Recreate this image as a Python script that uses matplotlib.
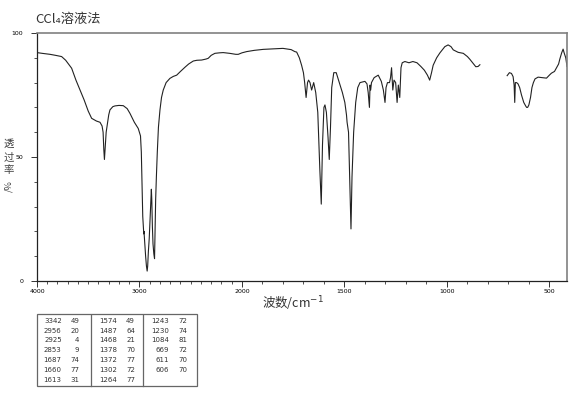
import numpy as np
import matplotlib
matplotlib.use("Agg")
import matplotlib.pyplot as plt
from matplotlib.ticker import FixedLocator, NullFormatter

plt.rcParams['font.family'] = ['Noto Sans CJK SC', 'DejaVu Sans']

# IR spectrum, CCl4 solution (wavenumber cm-1, transmittance %)
wn_1 = [4000, 3950, 3873, 3820, 3760, 3720, 3662, 3620, 3580, 3540, 3500, 3467,
        3420, 3385, 3365, 3355, 3348, 3342, 3336, 3325, 3314, 3300, 3288, 3260,
        3239, 3200, 3158, 3120, 3093, 3050, 3012, 2990, 2982, 2975, 2968, 2962,
        2958, 2956, 2950, 2940, 2932, 2925, 2920, 2913, 2905, 2897, 2890, 2884,
        2880, 2874, 2868, 2860, 2853, 2848, 2842, 2835, 2826, 2815, 2800, 2785,
        2768, 2740, 2703, 2670, 2637, 2600, 2556, 2520, 2475, 2440, 2393, 2350,
        2329, 2300, 2264, 2220, 2183, 2120, 2060, 2036, 2000, 1977, 1940, 1896,
        1850, 1800, 1760, 1742, 1733, 1720, 1709, 1700, 1694, 1687, 1680, 1675,
        1668, 1660, 1650, 1640, 1630, 1620, 1613, 1607, 1600, 1595, 1588, 1580,
        1574, 1568, 1562, 1552, 1540, 1525, 1510, 1498, 1490, 1487, 1480, 1474,
        1468, 1463, 1455, 1445, 1435, 1424, 1400, 1390, 1384, 1378, 1375, 1372,
        1368, 1355, 1335, 1320, 1310, 1302, 1297, 1290, 1280, 1275, 1270, 1264,
        1258, 1250, 1243, 1237, 1230, 1224, 1218, 1205, 1185, 1166, 1146, 1127,
        1110, 1095, 1084, 1075, 1067, 1050, 1034, 1010, 994, 980, 969, 945, 920,
        900, 888, 870, 859, 848, 839]
tr_1 = [92.1, 91.8, 91.4, 91.0, 90.5, 89.0, 85.8, 81.0, 77.0, 73.0, 68.5, 65.6,
        64.5, 64.0, 62.5, 60.0, 53.0, 49.0, 53.0, 60.0, 63.0, 67.0, 69.0, 70.3,
        70.6, 70.8, 70.7, 69.5, 67.6, 64.0, 61.5, 58.5, 52.0, 38.0, 26.0, 22.0,
        19.0, 20.0, 16.0, 10.0, 6.0, 4.0, 6.0, 12.0, 17.0, 25.0, 32.0, 37.0,
        33.0, 22.0, 15.0, 11.0, 9.0, 20.0, 33.0, 42.0, 52.0, 62.0, 69.0, 74.0,
        77.0, 80.0, 81.7, 82.5, 83.0, 84.5, 86.2, 87.5, 88.7, 89.0, 89.1, 89.5,
        89.8, 91.0, 91.8, 92.0, 92.1, 91.8, 91.4, 91.4, 92.0, 92.5, 93.0, 93.4,
        93.6, 93.8, 93.3, 92.5, 92.3, 90.0, 87.0, 84.0, 80.0, 74.0, 80.0, 81.0,
        80.0, 77.0, 80.0, 76.0, 68.0, 45.0, 31.0, 55.0, 70.0, 71.0, 68.0, 58.0,
        49.0, 62.0, 78.0, 84.0, 84.0, 80.0, 76.0, 72.0, 67.0, 64.0, 60.0, 40.0,
        21.0, 42.0, 60.0, 72.0, 78.0, 80.0, 80.5, 79.5, 76.0, 70.0, 79.0, 77.0,
        80.0, 82.0, 83.0, 80.5, 77.0, 72.0, 78.0, 80.0, 80.0, 82.0, 86.0, 77.0,
        81.0, 80.0, 72.0, 79.0, 74.0, 86.0, 88.0, 88.5, 88.0, 88.5, 88.0, 86.5,
        85.0, 83.0, 81.0, 84.0, 87.0, 90.0, 92.0, 94.5, 95.2, 94.5, 93.2, 92.2, 91.8,
        90.5, 89.4, 87.5, 86.4, 86.5, 87.2]

wn_2 = [706, 695, 685, 677, 672, 669, 666, 660, 653, 645, 636, 625, 615, 611,
        606, 600, 592, 585, 578, 570, 555, 535, 514, 500, 490, 475, 465, 455,
        449, 440, 433, 428, 420, 414]
tr_2 = [82.8, 84.0, 83.7, 82.4, 79.0, 72.0, 80.0, 80.0, 79.5, 78.0, 75.0, 72.0,
        70.5, 70.0, 70.0, 71.0, 74.0, 78.0, 80.0, 81.5, 82.2, 82.0, 81.8, 83.0,
        83.8, 84.5, 86.0, 87.5, 89.5, 92.0, 93.5, 92.0, 90.0, 86.5]

# peak table
col1_wn = [3342, 2956, 2925, 2853, 1687, 1660, 1613]
col1_t = [49, 20, 4, 9, 74, 77, 31]
col2_wn = [1574, 1487, 1468, 1378, 1372, 1302, 1264]
col2_t = [49, 64, 21, 70, 77, 72, 77]
col3_wn = [1243, 1230, 1084, 669, 611, 606]
col3_t = [72, 74, 81, 72, 70, 70]

x_major = [4000, 3000, 2000, 1500, 1000, 500]


def forward(w):
    w = np.asarray(w, dtype=float)
    return np.where(w >= 2000, w, 2 * w - 2000)


def inverse(u):
    u = np.asarray(u, dtype=float)
    return np.where(u >= 2000, u, (u + 2000) / 2)


W, H = 570, 395
fig = plt.figure(figsize=(W / 100, H / 100), dpi=100)


def fx(px):
    return px / W


def fy(py):
    return 1 - py / H


ax = fig.add_axes([fx(37), fy(281), fx(567) - fx(37), fy(33) - fy(281)])
ax.set_xscale('function', functions=(forward, inverse))
ax.plot(wn_1, tr_1, color='#222222', lw=0.8)
ax.plot(wn_2, tr_2, color='#222222', lw=0.8)
ax.set_xlim(4000, 414)
ax.set_ylim(0, 100)

ax.xaxis.set_major_locator(FixedLocator(x_major))
ax.xaxis.set_minor_locator(FixedLocator(list(range(500, 4000, 100))))
ax.xaxis.set_minor_formatter(NullFormatter())
ax.set_xticklabels([str(v) for v in x_major], family='DejaVu Sans', fontsize=4.5)
ax.yaxis.set_major_locator(FixedLocator([0, 50, 100]))
ax.yaxis.set_minor_locator(FixedLocator(list(range(10, 100, 10))))
ax.set_yticklabels(['0', '50', '100'], family='DejaVu Sans', fontsize=4.5)
ax.tick_params(axis='both', which='major', length=4, width=0.7, pad=2, color='#333333')
ax.tick_params(axis='both', which='minor', length=2, width=0.6, color='#333333')
ax.tick_params(axis='y', which='major', pad=6)

for s in ['left', 'bottom']:
    ax.spines[s].set_color('#222222')
    ax.spines[s].set_linewidth(0.9)
for s in ['top', 'right']:
    ax.spines[s].set_color('#808080')
    ax.spines[s].set_linewidth(1.2)

# titles and labels
fig.text(fx(35), fy(19), 'CCl₄溶液法', fontsize=9.5, ha='left', va='center',
         color='#333333')
fig.text(fx(293), fy(304), '波数/cm$^{-1}$', fontsize=9, ha='center', va='center',
         color='#333333')
fig.text(fx(8.5), fy(157), '透\n过\n率', fontsize=7.5, ha='center', va='center',
         linespacing=1.35, color='#444444')
fig.text(fx(8.5), fy(186), '/%', fontsize=6.5, ha='center', va='center',
         rotation=90, color='#444444')

# peak table
tax = fig.add_axes([fx(37), fy(388), fx(198) - fx(37), fy(314) - fy(388)])
tax.set_xlim(37, 198)
tax.set_ylim(388, 314)
tax.axis('off')
tax.add_patch(plt.Rectangle((37.5, 314.5), 159, 72, fill=False, ec='#666666',
                            lw=0.9, clip_on=False))
tax.plot([91, 91], [314.5, 386.5], color='#666666', lw=0.9)
tax.plot([143.3, 143.3], [314.5, 386.5], color='#666666', lw=0.9)
cols = [(col1_wn, col1_t, 61.7, 79.3), (col2_wn, col2_t, 117.3, 135),
        (col3_wn, col3_t, 169.3, 187.7)]
for wns, ts, xa, xb in cols:
    for i, (a, b) in enumerate(zip(wns, ts)):
        yy = 320.7 + 9.9 * i
        tax.text(xa, yy, str(a), fontsize=5, family='DejaVu Sans', ha='right',
                 va='center', color='#333333')
        tax.text(xb, yy, str(b), fontsize=5, family='DejaVu Sans', ha='right',
                 va='center', color='#333333')

fig.savefig('out.png', dpi=100)
